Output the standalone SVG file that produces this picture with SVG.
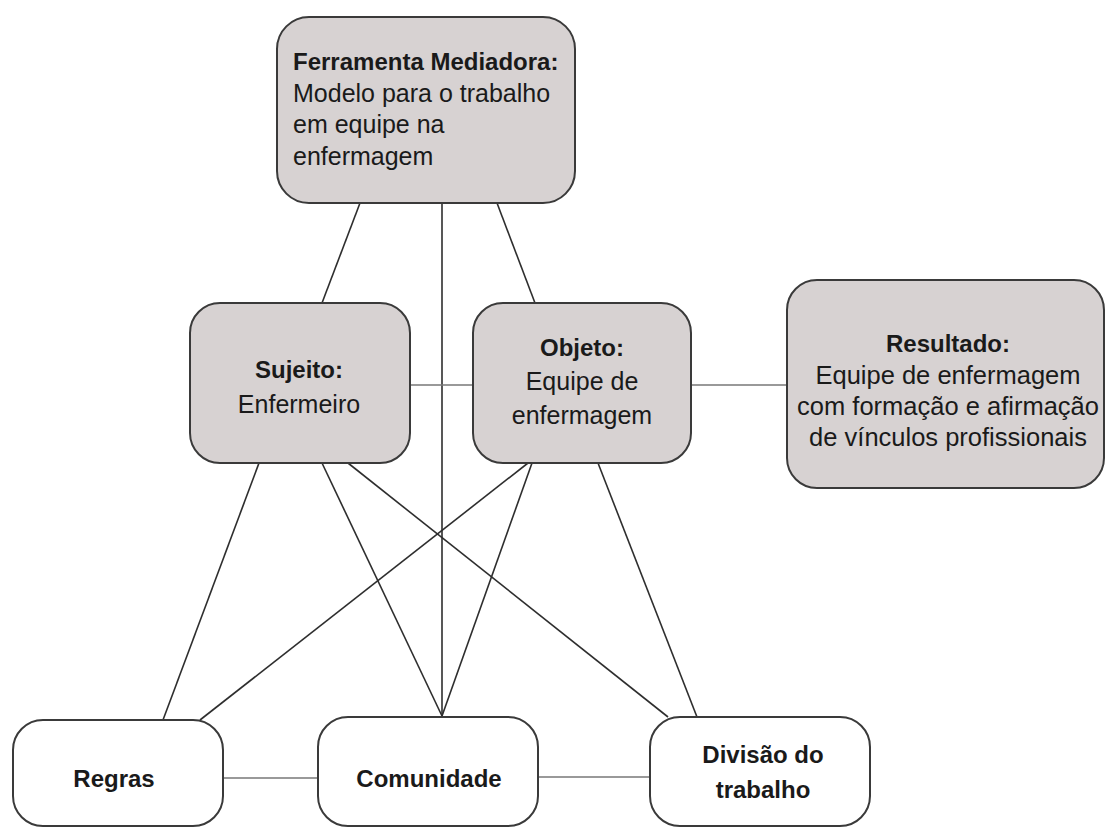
<svg xmlns="http://www.w3.org/2000/svg" width="1109" height="827" viewBox="0 0 1109 827">
<style>
.box{fill:#d7d2d2;stroke:#3a3a3a;stroke-width:2}
.wbox{fill:#ffffff;stroke:#3a3a3a;stroke-width:2}
.t{font-family:"Liberation Sans",Arial,sans-serif;font-size:25px;fill:#1a1a1a}
.b{font-weight:bold;font-size:24px}
.c{text-anchor:middle}
.ln{stroke:#2e2e2e;stroke-width:1.6;fill:none}
.hl{stroke:#777;stroke-width:1.6;fill:none}
</style>
<rect width="1109" height="827" fill="#ffffff"/>
<g id="connectors">
<line class="ln" x1="360" y1="203" x2="322" y2="303"/>
<line class="ln" x1="442" y1="203" x2="442" y2="716"/>
<line class="ln" x1="497" y1="203" x2="535" y2="303"/>
<line class="hl" x1="410" y1="385" x2="473" y2="385"/>
<line class="hl" x1="691" y1="385" x2="787" y2="385"/>
<line class="ln" x1="259" y1="463" x2="163" y2="720"/>
<line class="ln" x1="322" y1="463" x2="442" y2="716"/>
<line class="ln" x1="348" y1="463" x2="668" y2="717"/>
<line class="ln" x1="528" y1="463" x2="200" y2="720"/>
<line class="ln" x1="532" y1="463" x2="442" y2="716"/>
<line class="ln" x1="598" y1="463" x2="697" y2="717"/>
<line class="hl" x1="223" y1="778" x2="318" y2="778"/>
<line class="hl" x1="538" y1="777" x2="650" y2="777"/>
</g>
<g id="ferramenta">
<rect class="box" x="277" y="17" width="298" height="186" rx="32"/>
<text class="t b" x="293" y="70">Ferramenta Mediadora:</text>
<text class="t" x="293" y="102">Modelo para o trabalho</text>
<text class="t" x="293" y="133">em equipe na</text>
<text class="t" x="293" y="165">enfermagem</text>
</g>
<g id="sujeito">
<rect class="box" x="190" y="303" width="220" height="160" rx="30"/>
<text class="t b c" x="299" y="378">Sujeito:</text>
<text class="t c" x="299" y="413">Enfermeiro</text>
</g>
<g id="objeto">
<rect class="box" x="473" y="303" width="218" height="160" rx="30"/>
<text class="t b c" x="582" y="356">Objeto:</text>
<text class="t c" x="582" y="390">Equipe de</text>
<text class="t c" x="582" y="424">enfermagem</text>
</g>
<g id="resultado">
<rect class="box" x="787" y="280" width="317" height="208" rx="30"/>
<text class="t b c" x="948" y="352">Resultado:</text>
<text class="t c" x="948" y="384" style="font-size:25.5px">Equipe de enfermagem</text>
<text class="t c" x="948" y="415" style="font-size:25.5px">com formação e afirmação</text>
<text class="t c" x="948" y="446" style="font-size:25.5px">de vínculos profissionais</text>
</g>
<g id="regras">
<rect class="wbox" x="13" y="720" width="210" height="106" rx="30"/>
<text class="t b c" x="114" y="787">Regras</text>
</g>
<g id="comunidade">
<rect class="wbox" x="318" y="717" width="220" height="109" rx="30"/>
<text class="t b c" x="429" y="787">Comunidade</text>
</g>
<g id="divisao">
<rect class="wbox" x="650" y="717" width="220" height="109" rx="30"/>
<text class="t b c" x="763" y="763">Divisão do</text>
<text class="t b c" x="763" y="798">trabalho</text>
</g>
</svg>
